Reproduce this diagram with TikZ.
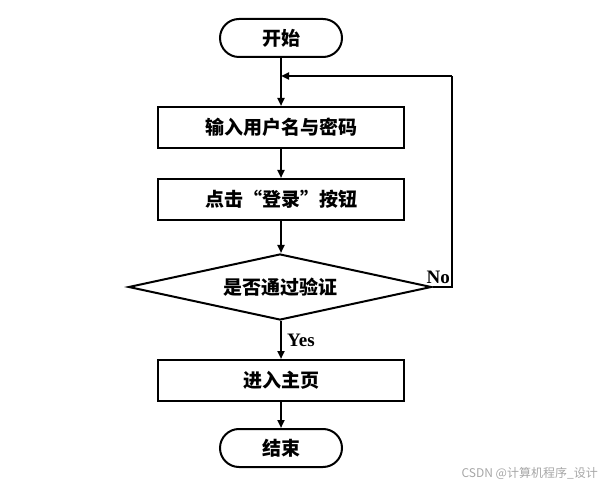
\documentclass[tikz,border=0pt]{standalone}
\usepackage{fontspec}
\newfontfamily\cjk{Noto Sans CJK SC}
\newfontfamily\lat{Liberation Serif}
\usetikzlibrary{shapes.geometric,arrows.meta}
\begin{document}
\begin{tikzpicture}[x=1pt,y=-1pt,
  base/.style={draw,line width=2pt,inner sep=0pt,font=\cjk\bfseries\fontsize{19}{19}\selectfont},
  term/.style={base,rectangle,rounded corners=19pt,minimum width=122pt,minimum height=38pt},
  proc/.style={base,rectangle,minimum width=246pt,minimum height=41pt},
  dec/.style={base,diamond,aspect=4.62,minimum width=303pt,minimum height=66pt},
  lbl/.style={font=\lat\bfseries\fontsize{19}{19}\selectfont,inner sep=0pt},
  arr/.style={line width=2pt,-{Triangle[length=8pt,width=7pt]}},
  ln/.style={line width=2pt}]
\useasboundingbox (0,0) rectangle (602,486);
\node[term] (start) at (281,38) {开始};
\node[proc] (in) at (281,127.5) {输入用户名与密码};
\node[proc] (click) at (281,199.5) {点击“登录”按钮};
\node[dec] (chk) at (280,287) {是否通过验证};
\node[proc] (home) at (281,380.5) {进入主页};
\node[term] (end) at (281,448) {结束};
\coordinate (join) at (281,76);
\coordinate (rb) at (452,287);
\coordinate (rt) at (452,76);
\draw[ln] (start.south) -- (join);
\draw[arr] (join) -- (in.north);
\draw[arr] (in.south) -- (click.north);
\draw[arr] (click.south) -- (click.south |- chk.north);
\draw[arr] (home.north |- chk.south) -- (home.north);
\node[lbl,anchor=west] (yes) at (287,340) {Yes};
\draw[arr] (home.south) -- (end.north);
\draw[ln] (chk.east) -- (rb) -- (rt);
\draw[arr] (rt) -- (join);
\node[lbl,anchor=south east] (no) at (450,284) {No};
\node[font=\cjk\fontsize{12}{12}\selectfont,text=black!35,anchor=east,inner sep=0pt] (wm) at (598,473) {CSDN @计算机程序\_设计};
\end{tikzpicture}
\end{document}
